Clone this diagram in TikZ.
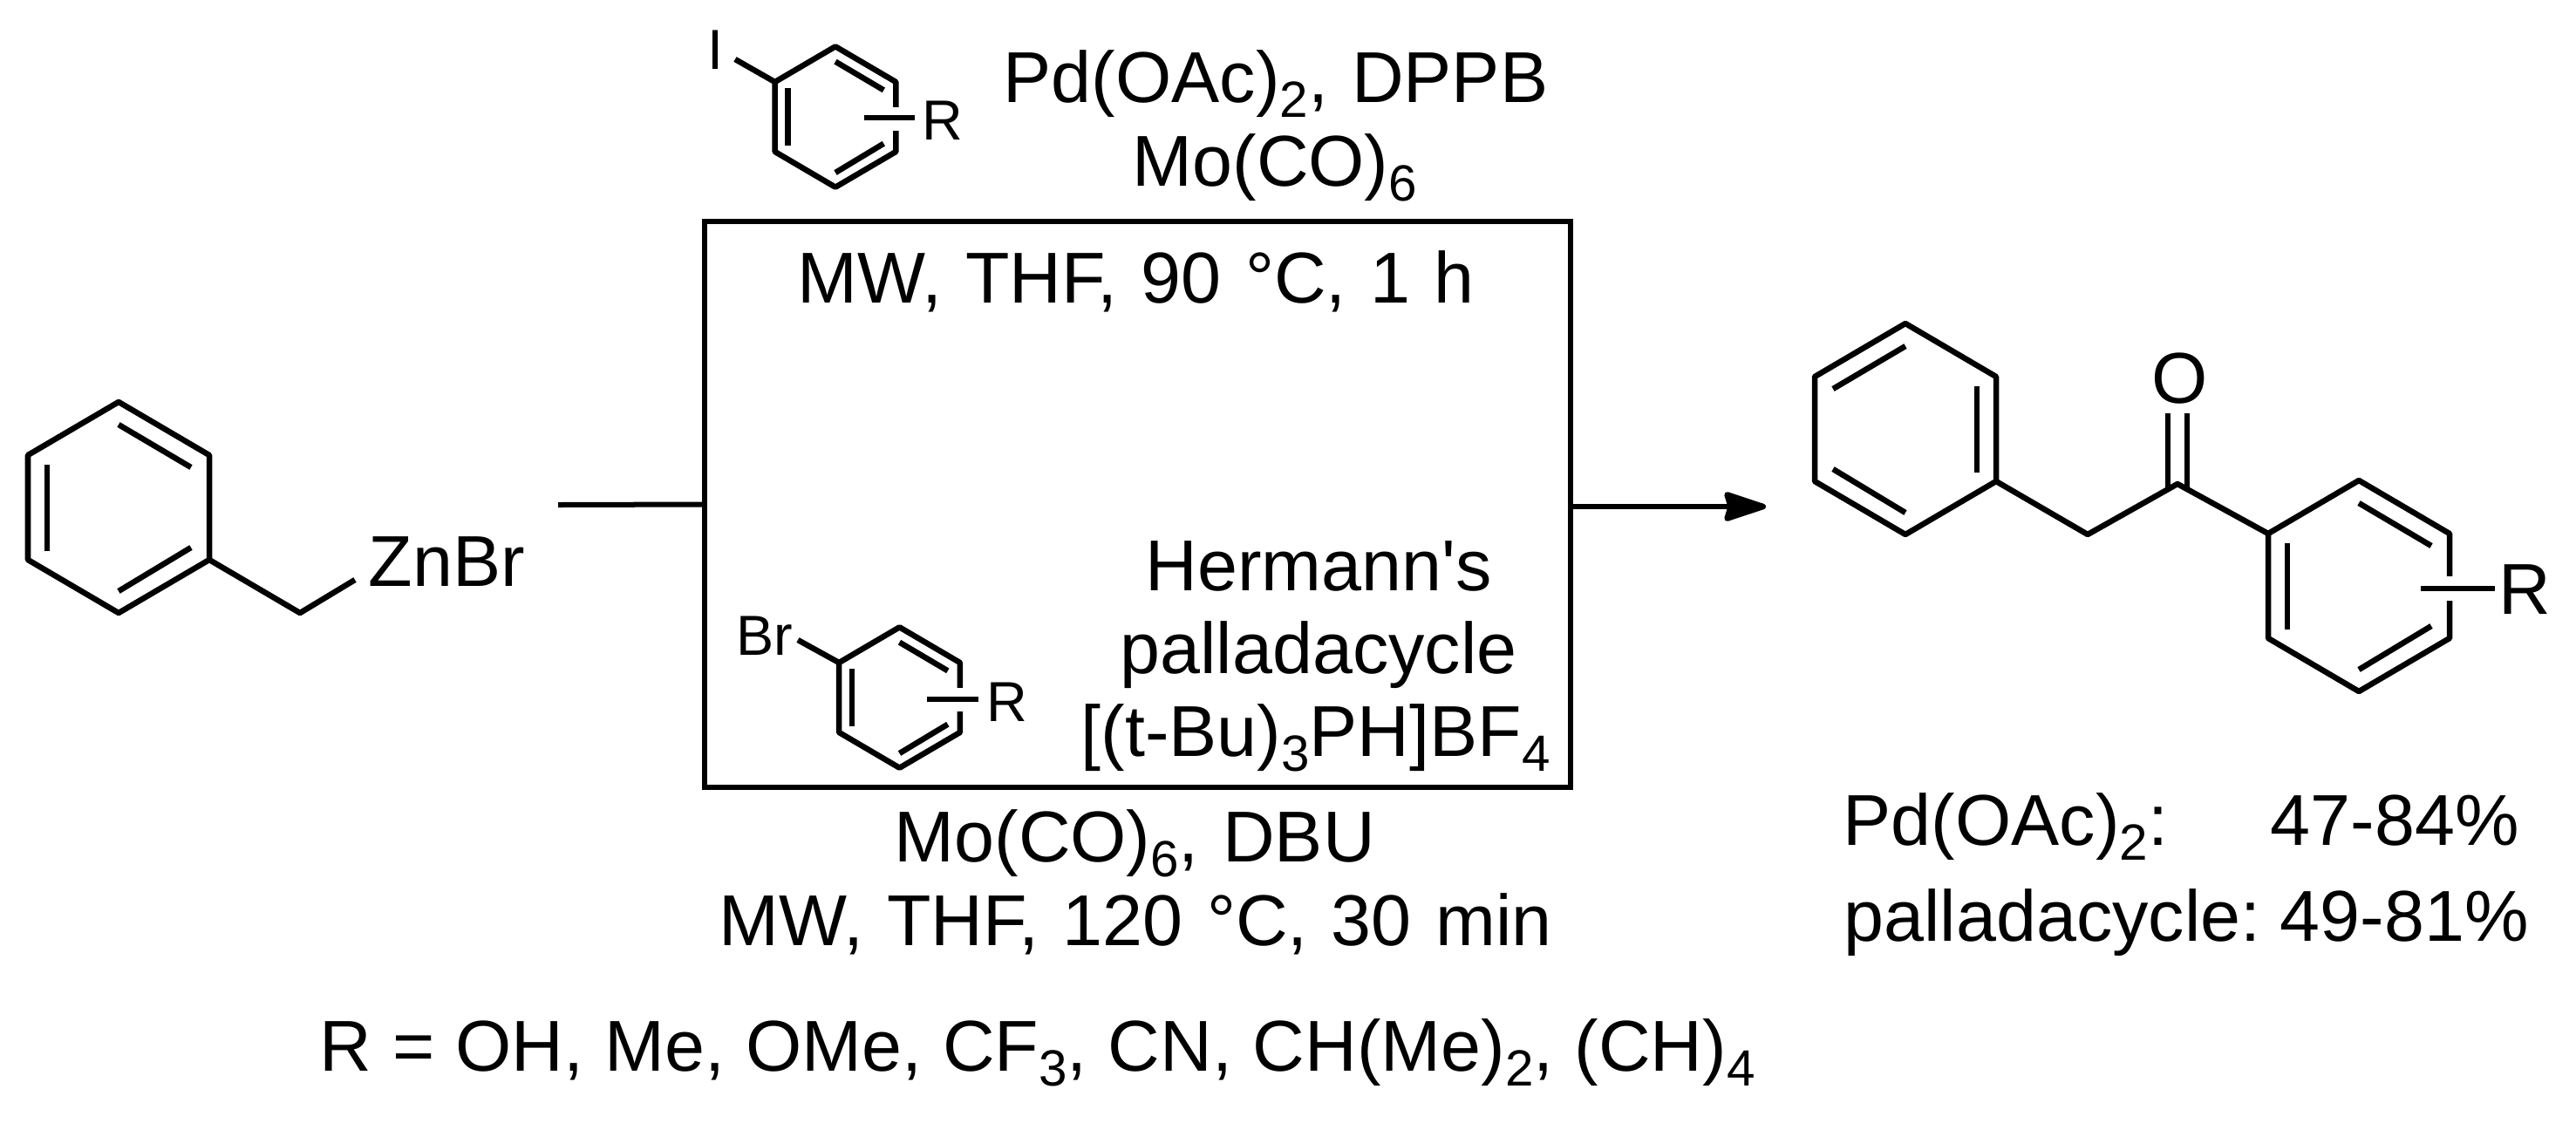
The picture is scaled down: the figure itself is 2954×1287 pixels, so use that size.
\documentclass[tikz,border=0pt]{standalone}
\usepackage{fontspec}
\setmainfont{Liberation Sans}
\usetikzlibrary{
  arrows.meta,
  calc
}
\newcommand{\chemsub}[1]{\raisebox{-0.21em}{\fontsize{16.6}{16.6}\selectfont #1}}
\tikzset{
  x=0.01cm,
  y=-0.01cm,
  bond/.style={line width=0.065cm, line join=round},
  ringgap/.style={line width=0.14cm, white},
  lbl/.style={inner sep=0, anchor=base west, font=\fontsize{23.5}{23.5}\selectfont\spaceskip 0.33em\relax},
  lbltight/.style={lbl, font=\fontsize{23.5}{23.5}\selectfont\spaceskip 0.29em\relax},
  lblsmall/.style={lbl, font=\fontsize{18.4}{18.4}\selectfont},
  rxnbox/.style={draw, line width=0.06cm, inner sep=0, minimum width=9.92cm, minimum height=6.49cm},
  rxnarrow/.style={line width=0.065cm, -{Stealth[length=0.56cm, width=0.36cm, inset=0.05cm, round]}},
  benzring/.pic={
    \coordinate (-t) at (0,-121);
    \coordinate (-ur) at (104,-60);
    \coordinate (-lr) at (104,60);
    \coordinate (-b) at (0,121);
    \coordinate (-ll) at (-104,60);
    \coordinate (-ul) at (-104,-60);
    \draw[bond] (-t) -- (-ur) -- (-lr) -- (-b) -- (-ll) -- (-ul) -- cycle;
    \draw[bond] (0,-95) -- (83,-46);
    \draw[bond] (-82,-49) -- (-82,50);
    \draw[bond] (83,46) -- (0,96);
  }
}

\begin{document}
\begin{tikzpicture}
    \useasboundingbox (0,0) rectangle (2954,1287);
    % benzylzinc bromide
    \pic (ringz) at (136,582) {benzring};
    \coordinate (zch2) at (344,703);
    \coordinate (zend) at (407,665);
    \draw[bond] (ringz-lr) -- (zch2) -- (zend);
    \node[lbl] (znbr) at (422,672) {ZnBr};
    % box and arrow
    \node[rxnbox] (box) at (1304.5,578.5) {};
    \coordinate (arm) at (640,579);
    \coordinate (tip) at (2025,581);
    \draw[line width=0.06cm] (arm) -- (box.west);
    \draw[rxnarrow] (box.east |- tip) -- (tip);
    % aryl iodide
    \pic[scale=2/3] (ringi) at (958,134) {benzring};
    \coordinate (ibond) at (843,68);
    \draw[bond] (ibond) -- (ringi-ul);
    \node[lblsmall] (iodo) at (811,79) {I};
    \coordinate (igapa) at (1025,123);
    \coordinate (igapb) at (1025,150);
    \draw[ringgap] (igapa) -- (igapb);
    \coordinate (irb) at (991,135);
    \coordinate (ire) at (1049,135);
    \draw[bond] (irb) -- (ire);
    \node[lblsmall] (ir) at (1057,160) {R};
    % top conditions
    \node[lbl] (pdoac) at (1150,117) {Pd(OAc)\chemsub{2}, DPPB};
    \node[lbl] (moco) at (1298,213) {Mo(CO)\chemsub{6}};
    \node[lbl] (mwa) at (914,347) {MW, THF, 90 °C, 1 h};
    % aryl bromide
    \pic[scale=2/3] (ringbr) at (1031.5,800) {benzring};
    \coordinate (brbond) at (915,734);
    \draw[bond] (brbond) -- (ringbr-ul);
    \node[lblsmall] (brom) at (844,751) {Br};
    \coordinate (bgapa) at (1101,789);
    \coordinate (bgapb) at (1101,816);
    \draw[ringgap] (bgapa) -- (bgapb);
    \coordinate (brb) at (1063,802);
    \coordinate (bre) at (1122,802);
    \draw[bond] (brb) -- (bre);
    \node[lblsmall] (br) at (1131,827) {R};
    % lower conditions
    \node[lbl] (herm) at (1313,677) {Hermann\textquotesingle s};
    \node[lbl] (pallad) at (1284,772) {palladacycle};
    \node[lbl] (phos) at (1239,867) {[(t-Bu)\chemsub{3}PH]BF\chemsub{4}};
    \node[lbl] (mocob) at (1025,988) {Mo(CO)\chemsub{6}, DBU};
    \node[lbl] (mwb) at (824,1084) {MW, THF, 120 °C, 30 min};
    \node[lbltight] (rlist) at (366,1228) {R = OH, Me, OMe, CF\chemsub{3}, CN, CH(Me)\chemsub{2}, (CH)\chemsub{4}};
    % product
    \pic[xscale=-1] (ringa) at (2185,492) {benzring};
    \pic (ringb) at (2705,672) {benzring};
    \coordinate (pch2) at (2394,613);
    \coordinate (cket) at (2497,555);
    \draw[bond] (ringa-ll) -- (pch2) -- (cket) -- (ringb-ul);
    \node[lbl] (oxy) at (2467,462) {O};
    \coordinate (oa) at (2486,474);
    \coordinate (ca) at (2486,560);
    \coordinate (ob) at (2508,474);
    \coordinate (cb) at (2508,560);
    \draw[bond] (oa) -- (ca);
    \draw[bond] (ob) -- (cb);
    \coordinate (pgapa) at (2809,661);
    \coordinate (pgapb) at (2809,689);
    \draw[ringgap] (pgapa) -- (pgapb);
    \coordinate (prb) at (2776,675);
    \coordinate (pre) at (2861,675);
    \draw[bond] (prb) -- (pre);
    \node[lbl] (pr) at (2865,704) {R};
    % yields
    \node[lbl] (ylda) at (2113,969) {Pd(OAc)\chemsub{2}:};
    \node[lbl] (yldav) at (2603,969) {47-84\%};
    \node[lbl] (yldb) at (2114,1079) {palladacycle:};
    \node[lbl] (yldbv) at (2614,1079) {49-81\%};
\end{tikzpicture}
\end{document}
